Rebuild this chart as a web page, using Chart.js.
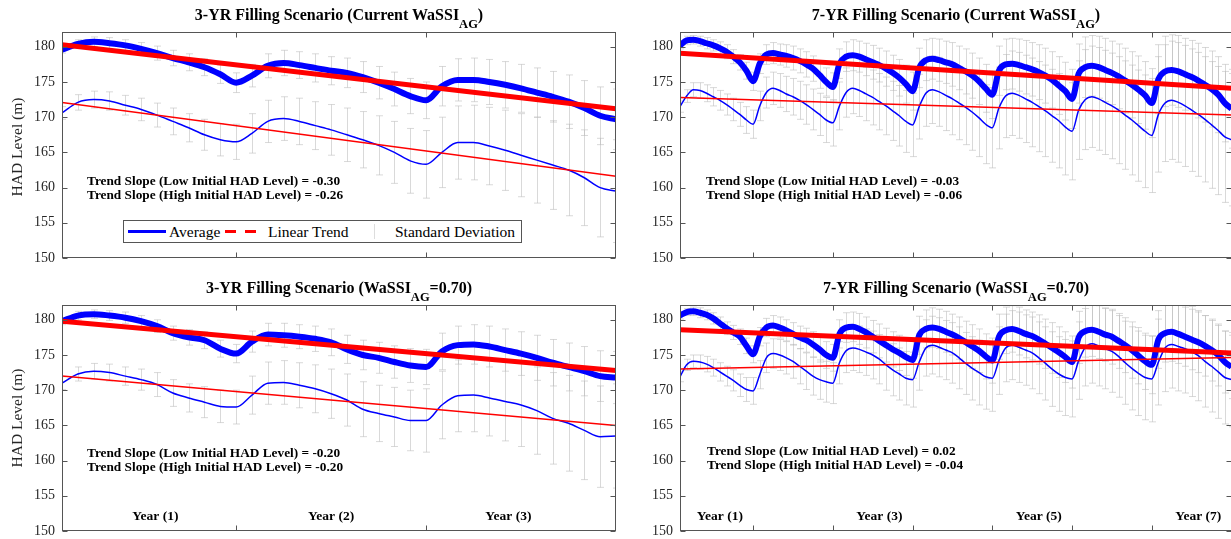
<!DOCTYPE html>
<html>
<head>
<meta charset="utf-8">
<script src="https://cdn.jsdelivr.net/npm/chart.js@4.4.0/dist/chart.umd.min.js"></script>
<style>
  html, body { margin: 0; padding: 0; background: #fff; }
  body { width: 1231px; height: 539px; position: relative; overflow: hidden; font-family: "Liberation Serif", "Times New Roman", serif; }
  canvas { position: absolute; }
  .title { position: absolute; font-weight: bold; font-size: 16px; line-height: 18px; color: #000; white-space: nowrap; transform: translateX(-50%); }
  .title .sub { position: relative; top: 7.5px; font-size: 12.5px; }
  .ylab { position: absolute; font-size: 15.5px; color: #262626; white-space: nowrap; transform: translate(-50%, -50%) rotate(-90deg); }
  .note { position: absolute; font-weight: bold; font-size: 13.3px; line-height: 13.5px; color: #000; white-space: nowrap; }
  .legend { position: absolute; border: 1px solid #555; background: #fff; font-size: 15.5px; color: #000; }
  .legend span { position: absolute; top: 1px; line-height: 19px; white-space: nowrap; }
  .legend i { position: absolute; display: block; }
</style>
</head>
<body>

<canvas id="c3cur" width="626" height="258" style="left:0; top:16px"></canvas>
<canvas id="c7cur" width="612" height="258" style="left:630px; top:16px"></canvas>
<canvas id="c3ag" width="626" height="258" style="left:0; top:289px"></canvas>
<canvas id="c7ag" width="612" height="258" style="left:630px; top:289px"></canvas>

<div class="title" style="left:339px; top:6px">3-YR Filling Scenario (Current WaSSI<span class="sub">AG</span>)</div>
<div class="title" style="left:956px; top:6px">7-YR Filling Scenario (Current WaSSI<span class="sub">AG</span>)</div>
<div class="title" style="left:339px; top:279px">3-YR Filling Scenario (WaSSI<span class="sub">AG</span>=0.70)</div>
<div class="title" style="left:956px; top:279px">7-YR Filling Scenario (WaSSI<span class="sub">AG</span>=0.70)</div>

<div class="ylab" style="left:17px; top:147px">HAD Level (m)</div>
<div class="ylab" style="left:17px; top:418px">HAD Level (m)</div>

<div class="note" id="n3cur" style="left:87px; top:174px"></div>
<div class="note" id="n7cur" style="left:706px; top:174px"></div>
<div class="note" id="n3ag" style="left:87px; top:446px"></div>
<div class="note" id="n7ag" style="left:707px; top:444px"></div>

<div class="legend" style="left:123px; top:220px; width:397px; height:21px">
  <i style="left:4px; top:9px; width:38px; height:3px; background:#0000ff"></i>
  <span style="left:45px">Average</span>
  <i style="left:101px; top:9px; width:11px; height:3px; background:#ff0000"></i>
  <i style="left:121px; top:9px; width:11px; height:3px; background:#ff0000"></i>
  <span style="left:144px">Linear Trend</span>
  <i style="left:250px; top:3px; width:1px; height:15px; background:#ddd"></i>
  <span style="left:271px">Standard Deviation</span>
</div>

<script>
// HAD level (m), one value per month
const yTicks = [150, 155, 160, 165, 170, 175, 180];
const xTicks3 = [12, 24];
const xTicks7 = [12, 24, 36, 48, 60, 72];
const yearPos3 = [6.9, 18, 29.2];
const yearNames3 = ['Year (1)', 'Year (2)', 'Year (3)'];
const yearPos7 = [7, 31, 55, 79];
const yearNames7 = ['Year (1)', 'Year (3)', 'Year (5)', 'Year (7)'];

// 3-YR, current WaSSI_AG
const high3Cur = [179.6, 180.4, 180.7, 180.5, 180.2, 179.7, 179.1, 178.4, 177.8, 177.1, 176.1, 174.9,
  175.9, 177.3, 177.7, 177.4, 177.0, 176.6, 176.3, 175.7, 174.9, 174.0, 173.0, 172.4,
  174.4, 175.3, 175.3, 175.0, 174.6, 174.1, 173.5, 172.9, 172.2, 171.3, 170.2, 169.7];
const low3Cur = [170.6, 172.1, 172.5, 172.3, 171.7, 171.1, 170.3, 169.4, 168.5, 167.5, 166.8, 166.5,
  167.7, 169.4, 169.8, 169.4, 168.8, 168.2, 167.5, 166.8, 166.0, 165.0, 163.8, 163.3,
  165.0, 166.4, 166.4, 165.9, 165.3, 164.6, 163.9, 163.2, 162.5, 161.4, 160.0, 159.5];
const sdHigh3Cur = [0.5, 0.6, 0.7, 0.8, 0.8, 0.9, 1.0, 1.1, 1.2, 1.2, 1.3, 1.4,
  1.6, 1.7, 1.8, 1.9, 2.0, 2.0, 2.1, 2.2, 2.3, 2.4, 2.5, 2.6,
  2.8, 3.0, 3.1, 3.2, 3.3, 3.4, 3.5, 3.6, 3.8, 3.9, 4.1, 4.3];
const sdLow3Cur = [0.9, 1.1, 1.2, 1.3, 1.4, 1.6, 1.7, 1.9, 2.0, 2.2, 2.3, 2.5,
  2.8, 3.0, 3.1, 3.3, 3.4, 3.6, 3.8, 4.0, 4.2, 4.4, 4.6, 4.8,
  5.0, 5.2, 5.3, 5.5, 5.7, 5.9, 6.1, 6.3, 6.5, 6.8, 7.0, 7.3];
const slopes3Cur = [-0.30, -0.26];      // low, high initial level
const trendStart3Cur = [172.1, 180.3];

// 7-YR, current WaSSI_AG
const high7Cur = [180.2, 180.9, 181.0, 180.8, 180.5, 180.2, 179.8, 179.3, 178.6, 177.8, 176.6, 175.1,
  177.6, 178.9, 179.1, 178.9, 178.7, 178.4, 178.0, 177.5, 176.9, 176.0, 175.0, 174.3,
  177.6, 178.6, 178.8, 178.6, 178.2, 177.8, 177.4, 176.9, 176.3, 175.6, 174.7, 173.7,
  177.0, 178.1, 178.3, 178.1, 177.8, 177.5, 177.0, 176.5, 175.9, 175.1, 174.1, 173.2,
  176.6, 177.5, 177.6, 177.4, 177.1, 176.8, 176.4, 175.9, 175.3, 174.5, 173.7, 172.6,
  176.2, 177.1, 177.3, 177.1, 176.7, 176.3, 175.8, 175.2, 174.6, 173.9, 173.1, 172.0,
  175.4, 176.5, 176.7, 176.5, 176.1, 175.7, 175.2, 174.6, 174.0, 173.2, 172.0, 171.2];
const low7Cur = [171.5, 173.0, 173.9, 173.8, 173.4, 172.9, 172.4, 171.8, 171.1, 170.4, 169.6, 169.0,
  171.6, 173.5, 174.1, 173.8, 173.3, 172.9, 172.4, 171.8, 171.1, 170.4, 169.6, 169.2,
  171.6, 173.5, 174.1, 173.8, 173.3, 172.8, 172.2, 171.6, 170.9, 170.2, 169.4, 168.9,
  171.5, 173.4, 173.9, 173.6, 173.1, 172.6, 172.0, 171.4, 170.7, 169.9, 169.0, 168.5,
  171.3, 173.0, 173.4, 173.1, 172.6, 172.1, 171.5, 170.9, 170.2, 169.5, 168.6, 168.0,
  171.0, 172.5, 172.9, 172.6, 172.1, 171.6, 171.0, 170.3, 169.6, 168.8, 168.0, 167.4,
  170.4, 172.0, 172.4, 172.1, 171.6, 171.0, 170.4, 169.7, 168.9, 168.1, 167.2, 166.8];
const sdHigh7Cur = [0.5, 0.6, 0.6, 0.7, 0.8, 0.8, 0.9, 1.0, 1.0, 1.1, 1.2, 1.3,
  1.4, 1.4, 1.5, 1.5, 1.6, 1.7, 1.7, 1.8, 1.8, 1.9, 2.0, 2.0,
  2.1, 2.1, 2.2, 2.2, 2.3, 2.4, 2.4, 2.5, 2.5, 2.6, 2.7, 2.7,
  2.8, 2.9, 2.9, 3.0, 3.0, 3.1, 3.1, 3.2, 3.2, 3.3, 3.4, 3.4,
  3.5, 3.6, 3.6, 3.7, 3.8, 3.8, 3.9, 3.9, 4.0, 4.1, 4.1, 4.2,
  4.2, 4.3, 4.3, 4.4, 4.5, 4.5, 4.6, 4.6, 4.7, 4.8, 4.8, 4.9,
  4.9, 5.0, 5.0, 5.1, 5.1, 5.2, 5.3, 5.3, 5.4, 5.4, 5.5, 5.6];
const sdLow7Cur = [0.8, 0.9, 1.0, 1.1, 1.2, 1.3, 1.4, 1.5, 1.6, 1.7, 1.9, 2.0,
  2.1, 2.2, 2.3, 2.4, 2.5, 2.6, 2.7, 2.8, 2.9, 3.0, 3.2, 3.3,
  3.4, 3.5, 3.6, 3.7, 3.8, 3.9, 4.0, 4.1, 4.2, 4.3, 4.4, 4.5,
  4.6, 4.7, 4.8, 4.9, 5.0, 5.1, 5.2, 5.3, 5.4, 5.5, 5.6, 5.7,
  5.8, 5.9, 6.0, 6.1, 6.2, 6.3, 6.4, 6.5, 6.6, 6.7, 6.8, 6.9,
  7.0, 7.1, 7.2, 7.3, 7.4, 7.5, 7.6, 7.7, 7.8, 7.9, 8.0, 8.1,
  8.2, 8.3, 8.4, 8.5, 8.6, 8.7, 8.8, 8.9, 9.0, 9.1, 9.3, 9.4];
const slopes7Cur = [-0.03, -0.06];
const trendStart7Cur = [172.8, 179.1];

// 3-YR, WaSSI_AG = 0.70
const high3Ag = [179.8, 180.6, 180.8, 180.6, 180.3, 179.8, 179.1, 178.1, 177.5, 177.1, 175.9, 175.2,
  176.9, 177.9, 177.8, 177.6, 177.3, 176.8, 175.8, 175.0, 174.6, 174.0, 173.5, 173.3,
  175.5, 176.4, 176.5, 176.2, 175.7, 175.2, 174.6, 173.9, 173.3, 172.7, 172.0, 171.8];
const low3Ag = [171.0, 172.3, 172.7, 172.5, 172.0, 171.5, 170.8, 169.6, 168.9, 168.3, 167.7, 167.6,
  169.3, 171.0, 171.1, 170.7, 170.2, 169.5, 168.6, 167.3, 166.7, 166.2, 165.7, 165.7,
  167.9, 169.2, 169.3, 168.9, 168.4, 167.9, 167.1, 166.0, 165.3, 164.3, 163.4, 163.5];
const sdHigh3Ag = [0.5, 0.6, 0.6, 0.7, 0.8, 0.8, 0.9, 1.0, 1.1, 1.2, 1.2, 1.3,
  1.5, 1.6, 1.7, 1.7, 1.8, 1.9, 2.0, 2.1, 2.2, 2.3, 2.4, 2.5,
  2.6, 2.7, 2.8, 2.9, 3.0, 3.1, 3.2, 3.3, 3.4, 3.5, 3.6, 3.7];
const sdLow3Ag = [0.9, 1.0, 1.1, 1.2, 1.3, 1.5, 1.7, 1.9, 2.0, 2.2, 2.3, 2.4,
  2.7, 3.0, 3.1, 3.2, 3.4, 3.5, 3.7, 3.9, 4.0, 4.2, 4.3, 4.5,
  4.8, 5.1, 5.2, 5.4, 5.6, 5.9, 6.2, 6.5, 6.8, 7.0, 7.2, 7.4];
const slopes3Ag = [-0.20, -0.20];
const trendStart3Ag = [172.0, 179.8];

// 7-YR, WaSSI_AG = 0.70
const high7Ag = [180.6, 181.1, 181.2, 181.0, 180.7, 180.2, 179.5, 178.8, 178.2, 177.6, 176.3, 175.1,
  177.6, 178.9, 179.2, 178.9, 178.5, 178.0, 177.5, 177.1, 176.5, 175.8, 175.0, 174.6,
  178.0, 178.9, 179.0, 178.7, 178.2, 177.6, 177.0, 176.4, 175.8, 175.3, 174.7, 174.3,
  177.8, 178.7, 178.9, 178.7, 178.3, 177.9, 177.4, 176.8, 176.2, 175.6, 174.8, 174.2,
  177.6, 178.5, 178.7, 178.4, 178.0, 177.7, 177.2, 176.6, 176.0, 175.4, 174.7, 174.0,
  177.5, 178.4, 178.6, 178.3, 177.9, 177.6, 177.0, 176.4, 175.7, 174.9, 174.1, 173.6,
  177.2, 178.1, 178.3, 178.0, 177.6, 177.2, 176.8, 176.3, 175.7, 175.0, 174.0, 173.3];
const low7Ag = [171.9, 173.6, 174.1, 174.0, 173.7, 173.2, 172.6, 172.0, 171.4, 170.7, 170.1, 169.9,
  172.2, 174.6, 175.2, 175.0, 174.6, 174.1, 173.4, 172.7, 172.0, 171.5, 171.2, 171.0,
  173.9, 175.6, 176.0, 175.8, 175.4, 175.0, 174.4, 173.6, 172.9, 172.3, 171.7, 171.5,
  174.0, 176.0, 176.4, 176.1, 175.7, 175.3, 174.6, 173.8, 173.1, 172.5, 171.9, 171.7,
  174.2, 176.0, 176.4, 176.1, 175.7, 175.3, 174.6, 173.8, 173.0, 172.3, 171.8, 171.6,
  174.2, 176.1, 176.6, 176.3, 175.9, 175.5, 174.8, 173.9, 173.1, 172.4, 171.8, 171.6,
  174.0, 176.0, 176.5, 176.2, 175.9, 175.5, 174.9, 174.1, 173.4, 172.6, 171.8, 171.5];
const sdHigh7Ag = [0.5, 0.5, 0.6, 0.7, 0.7, 0.8, 0.9, 0.9, 1.0, 1.1, 1.1, 1.2,
  1.3, 1.3, 1.4, 1.5, 1.5, 1.6, 1.6, 1.7, 1.8, 1.8, 1.9, 1.9,
  2.0, 2.1, 2.1, 2.2, 2.2, 2.3, 2.4, 2.4, 2.5, 2.5, 2.6, 2.6,
  2.7, 2.7, 2.8, 2.8, 2.9, 2.9, 3.0, 3.0, 3.1, 3.1, 3.2, 3.2,
  3.2, 3.3, 3.3, 3.4, 3.4, 3.4, 3.5, 3.5, 3.6, 3.6, 3.6, 3.7,
  3.7, 3.7, 3.8, 3.8, 3.8, 3.9, 3.9, 3.9, 4.0, 4.0, 4.0, 4.1,
  4.1, 4.1, 4.2, 4.2, 4.2, 4.3, 4.3, 4.3, 4.4, 4.4, 4.4, 4.5];
const sdLow7Ag = [0.7, 0.8, 0.9, 1.0, 1.1, 1.2, 1.3, 1.4, 1.5, 1.6, 1.7, 1.9,
  2.0, 2.1, 2.1, 2.2, 2.3, 2.4, 2.5, 2.6, 2.7, 2.8, 2.9, 2.9,
  3.0, 3.1, 3.2, 3.3, 3.3, 3.4, 3.5, 3.6, 3.7, 3.7, 3.8, 3.9,
  4.0, 4.0, 4.1, 4.2, 4.2, 4.3, 4.4, 4.4, 4.5, 4.6, 4.6, 4.7,
  4.8, 4.8, 4.9, 5.0, 5.0, 5.1, 5.1, 5.2, 5.3, 5.3, 5.4, 5.4,
  5.5, 5.5, 5.6, 5.7, 5.7, 5.8, 5.8, 5.9, 5.9, 6.0, 6.0, 6.1,
  6.1, 6.2, 6.2, 6.3, 6.3, 6.4, 6.4, 6.5, 6.5, 6.6, 6.6, 6.7];
const slopes7Ag = [0.02, -0.04];
const trendStart7Ag = [173.0, 178.6];

const AXIS_COLOR = '#555';
const TICK_FONT = { family: '"Liberation Serif", "Times New Roman", serif', size: 14 };

// Error bars behind the lines, then box, inward ticks and year labels on top
function panelDecor(p) {
  return {
    id: 'panelDecor',
    beforeDatasetsDraw(chart) {
      const { ctx, chartArea: a, scales: { x, y } } = chart;
      ctx.save();
      ctx.beginPath();
      ctx.rect(a.left, a.top, a.right - a.left, a.bottom - a.top);
      ctx.clip();
      ctx.strokeStyle = 'rgba(185,185,185,0.55)';
      ctx.lineWidth = 1;
      const cap = 3.5;
      [[p.high, p.sdHigh], [p.low, p.sdLow]].forEach(([avg, sd]) => {
        avg.forEach((v, i) => {
          const px = Math.round(x.getPixelForValue(i + 1)) + 0.5;
          const top = y.getPixelForValue(v + sd[i]);
          const bot = y.getPixelForValue(v - sd[i]);
          ctx.beginPath();
          ctx.moveTo(px, top); ctx.lineTo(px, bot);
          ctx.moveTo(px - cap, top); ctx.lineTo(px + cap, top);
          ctx.moveTo(px - cap, bot); ctx.lineTo(px + cap, bot);
          ctx.stroke();
        });
      });
      ctx.restore();
    },
    afterDraw(chart) {
      const { ctx, chartArea: a, scales: { x, y } } = chart;
      const L = Math.round(a.left) + 0.5, R = Math.round(a.right) - 0.5;
      const T = Math.round(a.top) + 0.5, B = Math.round(a.bottom) - 0.5;
      ctx.save();
      ctx.strokeStyle = AXIS_COLOR;
      ctx.lineWidth = 1;
      ctx.strokeRect(L, T, R - L, B - T);
      ctx.beginPath();
      const tl = 5;
      p.xTicks.forEach(m => {
        const px = Math.round(x.getPixelForValue(m)) + 0.5;
        ctx.moveTo(px, B); ctx.lineTo(px, B - tl);
        ctx.moveTo(px, T); ctx.lineTo(px, T + tl);
      });
      yTicks.forEach(v => {
        const py = Math.round(y.getPixelForValue(v)) + 0.5;
        ctx.moveTo(L, py); ctx.lineTo(L + tl, py);
        ctx.moveTo(R, py); ctx.lineTo(R - tl, py);
      });
      ctx.stroke();
      if (p.years) {
        ctx.fillStyle = '#000';
        ctx.font = 'bold 13.5px "Liberation Serif", "Times New Roman", serif';
        ctx.textAlign = 'center';
        ctx.textBaseline = 'middle';
        p.years.pos.forEach((m, i) => {
          ctx.fillText(p.years.names[i], x.getPixelForValue(m), a.bottom - 14);
        });
      }
      ctx.restore();
    }
  };
}

function trendLine(start, slope, n) {
  return [{ x: 1, y: start }, { x: n, y: start + slope * (n - 1) }];
}

function buildPanel(id, p) {
  const n = p.high.length;
  const pts = arr => arr.map((v, i) => ({ x: i + 1, y: v }));
  new Chart(document.getElementById(id), {
    type: 'line',
    data: {
      datasets: [
        { data: trendLine(p.trendStart[1], p.slopes[1], n), borderColor: '#ff0000', borderWidth: 5, order: 0 },
        { data: trendLine(p.trendStart[0], p.slopes[0], n), borderColor: '#ff0000', borderWidth: 1.5, order: 0 },
        { data: pts(p.high), borderColor: '#0000ff', borderWidth: 6, order: 1 },
        { data: pts(p.low), borderColor: '#0000ff', borderWidth: 1.5, order: 1 }
      ]
    },
    options: {
      responsive: false,
      animation: false,
      events: [],
      // y tick labels already ask for ~15px above and below the plot
      layout: { padding: { top: 16, bottom: 16, left: 0, right: p.padRight } },
      elements: {
        point: { radius: 0 },
        line: { fill: false, cubicInterpolationMode: 'monotone', borderCapStyle: 'butt', borderJoinStyle: 'round' }
      },
      scales: {
        x: { type: 'linear', display: false, min: 1, max: n },
        y: {
          type: 'linear', min: 150, max: 182.1,
          grid: { display: false, drawTicks: false },
          border: { display: false },
          ticks: { font: TICK_FONT, color: '#262626', padding: 7 },
          afterBuildTicks: s => { s.ticks = yTicks.map(v => ({ value: v })); },
          afterFit: s => { s.width = p.axisWidth; }
        }
      },
      plugins: { legend: { display: false }, tooltip: { enabled: false }, title: { display: false } }
    },
    plugins: [panelDecor(p)]
  });
  const note = document.getElementById(p.noteId);
  note.innerHTML =
    'Trend Slope (Low Initial HAD Level) = ' + p.slopes[0].toFixed(2) + '<br>' +
    'Trend Slope (High Initial HAD Level) = ' + p.slopes[1].toFixed(2);
}

buildPanel('c3cur', {
  high: high3Cur, low: low3Cur, sdHigh: sdHigh3Cur, sdLow: sdLow3Cur,
  slopes: slopes3Cur, trendStart: trendStart3Cur, xTicks: xTicks3,
  axisWidth: 62, padRight: 10, noteId: 'n3cur'
});
buildPanel('c7cur', {
  high: high7Cur, low: low7Cur, sdHigh: sdHigh7Cur, sdLow: sdLow7Cur,
  slopes: slopes7Cur, trendStart: trendStart7Cur, xTicks: xTicks7,
  axisWidth: 50, padRight: 10.5, noteId: 'n7cur'
});
buildPanel('c3ag', {
  high: high3Ag, low: low3Ag, sdHigh: sdHigh3Ag, sdLow: sdLow3Ag,
  slopes: slopes3Ag, trendStart: trendStart3Ag, xTicks: xTicks3,
  years: { pos: yearPos3, names: yearNames3 },
  axisWidth: 62, padRight: 10, noteId: 'n3ag'
});
buildPanel('c7ag', {
  high: high7Ag, low: low7Ag, sdHigh: sdHigh7Ag, sdLow: sdLow7Ag,
  slopes: slopes7Ag, trendStart: trendStart7Ag, xTicks: xTicks7,
  years: { pos: yearPos7, names: yearNames7 },
  axisWidth: 50, padRight: 10.5, noteId: 'n7ag'
});
</script>
</body>
</html>
